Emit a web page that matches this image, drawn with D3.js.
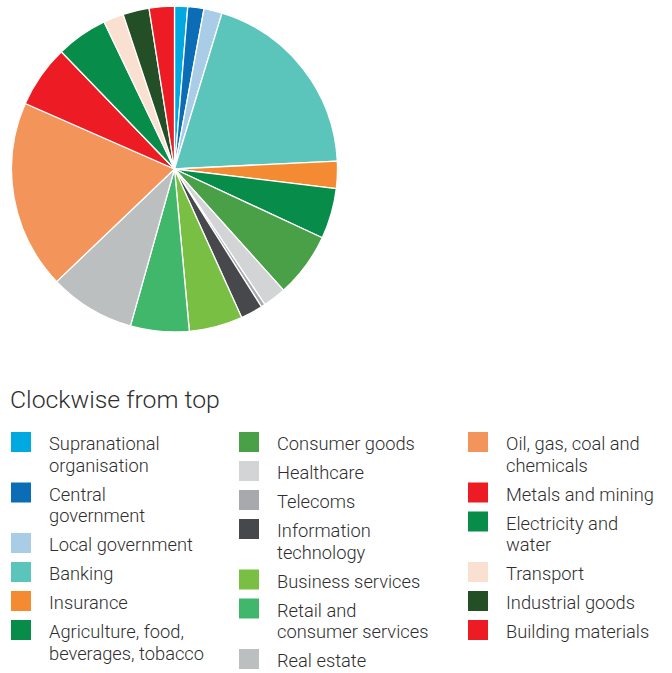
<!DOCTYPE html>
<html>
<head>
<meta charset="utf-8">
<script src="https://cdn.jsdelivr.net/npm/d3@7"></script>
<style>
  html, body { margin: 0; padding: 0; background: #ffffff; }
  svg { display: block; }
  text { font-family: Roboto, "Liberation Sans", Arial, sans-serif; font-weight: 300; fill: #2e2e2e; }
</style>
</head>
<body>
<svg id="chart" width="672" height="673"></svg>
<script>
// Sectors, clockwise from the top of the pie
const sectors = [
  "Supranational organisation", "Central government", "Local government",
  "Banking", "Insurance", "Agriculture, food, beverages, tobacco",
  "Consumer goods", "Healthcare", "Telecoms", "Information technology",
  "Business services", "Retail and consumer services", "Real estate",
  "Oil, gas, coal and chemicals", "Metals and mining", "Electricity and water",
  "Transport", "Industrial goods", "Building materials"
];

// Share of the portfolio, per cent
const shares = [
  1.3, 1.6, 1.8,
  19.5, 2.7, 5.0,
  6.4, 2.3, 0.4, 2.2,
  5.3, 5.8, 8.5,
  18.7, 6.2, 5.1,
  2.0, 2.6, 2.5
];

const sectorColors = [
  "#00a9e0", "#0a6db6", "#a9cde6",
  "#5bc4bb", "#f48b33", "#078c4a",
  "#49a046", "#d3d4d5", "#a7a9ac", "#46484b",
  "#79bf43", "#40b76b", "#bcbfbf",
  "#f3955a", "#ed1c24", "#078c4a",
  "#fae0d1", "#244f26", "#ed1c24"
];

// Legend text, broken into lines as set in the key
const legendLines = [
  ["Supranational", "organisation"], ["Central", "government"], ["Local government"],
  ["Banking"], ["Insurance"], ["Agriculture, food,", "beverages, tobacco"],
  ["Consumer goods"], ["Healthcare"], ["Telecoms"], ["Information", "technology"],
  ["Business services"], ["Retail and", "consumer services"], ["Real estate"],
  ["Oil, gas, coal and", "chemicals"], ["Metals and mining"], ["Electricity and", "water"],
  ["Transport"], ["Industrial goods"], ["Building materials"]
];

// Which legend column each sector sits in
const legendColumns = [0,0,0,0,0,0, 1,1,1,1,1,1,1, 2,2,2,2,2,2];

const legendTitle = "Clockwise from top";

const svg = d3.select("#chart");

// ---- Pie ----
const cx = 174.5, cy = 169, radius = 163;

const color = d3.scaleOrdinal().domain(sectors).range(sectorColors);

const pie = d3.pie()
  .value(d => d.share)
  .sort(null)
  .startAngle(0)
  .endAngle(2 * Math.PI);

const arc = d3.arc().innerRadius(0).outerRadius(radius);

const data = sectors.map((name, i) => ({ name, share: shares[i] }));

svg.append("g")
  .attr("transform", `translate(${cx},${cy})`)
  .selectAll("path")
  .data(pie(data))
  .join("path")
  .attr("d", arc)
  .attr("fill", d => color(d.data.name))
  .attr("stroke", "#ffffff")
  .attr("stroke-width", 1.3)
  .attr("stroke-linejoin", "round");

// ---- Legend ----
svg.append("text")
  .attr("x", 10)
  .attr("y", 407.5)
  .attr("font-size", 24.8)
  .text(legendTitle);

const colX = [11, 239, 468];
const swatch = 20, textOffset = 38, lineH = 21.5, rowGap = 7.5, top0 = 432;

const colY = [top0, top0, top0];
const legendItems = sectors.map((name, i) => {
  const c = legendColumns[i];
  const y = colY[c];
  colY[c] += legendLines[i].length * lineH + rowGap;
  return { name, lines: legendLines[i], x: colX[c], y };
});

const item = svg.append("g")
  .selectAll("g")
  .data(legendItems)
  .join("g")
  .attr("transform", d => `translate(${d.x},${d.y})`);

item.append("rect")
  .attr("width", swatch)
  .attr("height", swatch)
  .attr("fill", d => color(d.name));

item.append("text")
  .attr("x", textOffset)
  .attr("y", 18)
  .attr("font-size", 18.3)
  .selectAll("tspan")
  .data(d => d.lines)
  .join("tspan")
  .attr("x", textOffset)
  .attr("dy", (d, i) => i === 0 ? 0 : lineH)
  .text(d => d);
</script>
</body>
</html>
